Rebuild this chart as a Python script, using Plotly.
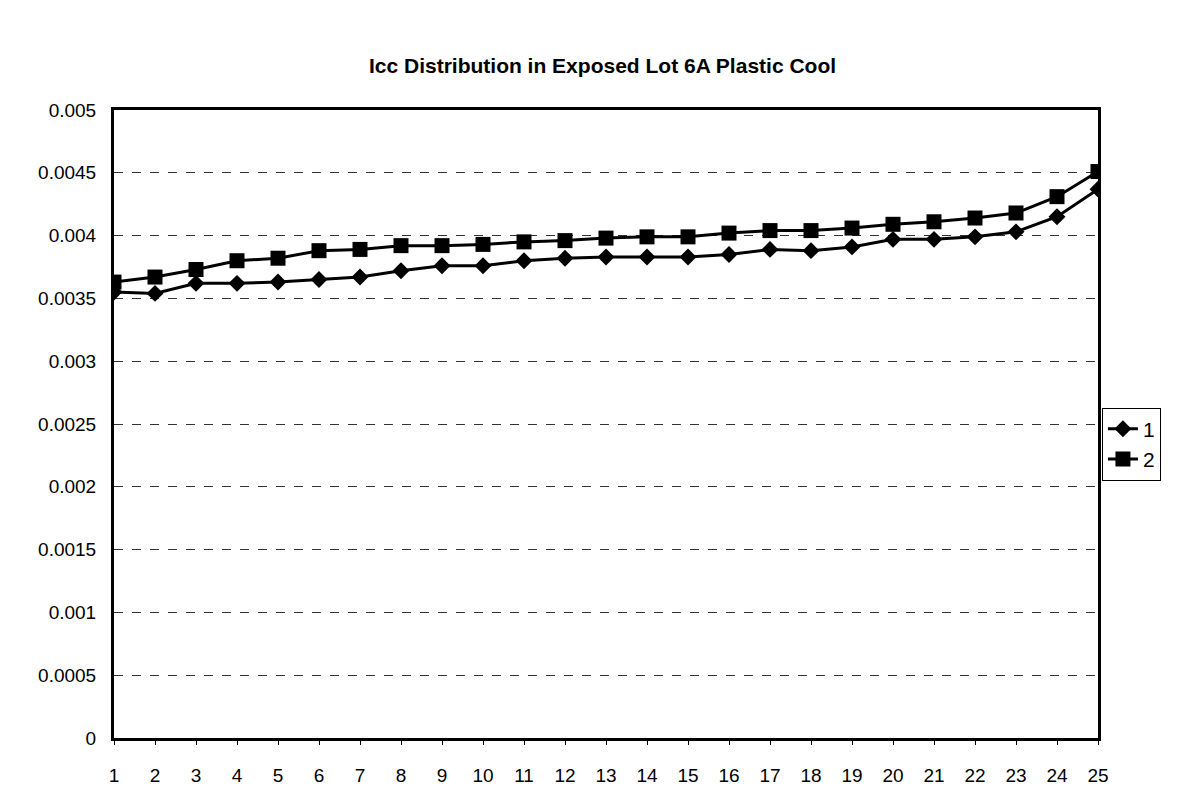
import plotly.graph_objects as go

x_vals = list(range(1, 26))
series1 = [0.00355, 0.00354, 0.00362, 0.00362, 0.00363, 0.00365, 0.00367, 0.00372, 0.00376, 0.00376,
           0.00380, 0.00382, 0.00383, 0.00383, 0.00383, 0.00385, 0.00389, 0.00388, 0.00391, 0.00397,
           0.00397, 0.00399, 0.00403, 0.00415, 0.00437]
series2 = [0.00363, 0.00367, 0.00373, 0.00380, 0.00382, 0.00388, 0.00389, 0.00392, 0.00392, 0.00393,
           0.00395, 0.00396, 0.00398, 0.00399, 0.00399, 0.00402, 0.00404, 0.00404, 0.00406, 0.00409,
           0.00411, 0.00414, 0.00418, 0.00431, 0.00451]
y_ticks = [0, 0.0005, 0.001, 0.0015, 0.002, 0.0025, 0.003, 0.0035, 0.004, 0.0045, 0.005]
y_labels = ["0", "0.0005", "0.001", "0.0015", "0.002", "0.0025", "0.003", "0.0035", "0.004", "0.0045", "0.005"]

FONT = "Liberation Sans, Arial, sans-serif"

fig = go.Figure()
fig.add_trace(go.Scatter(x=x_vals, y=series1, name="1", mode="lines+markers",
                         line=dict(color="black", width=3),
                         marker=dict(symbol="diamond", size=13, color="black")))
fig.add_trace(go.Scatter(x=x_vals, y=series2, name="2", mode="lines+markers",
                         line=dict(color="black", width=3),
                         marker=dict(symbol="square", size=15, color="black")))

fig.update_layout(
    width=1189, height=803,
    paper_bgcolor="white", plot_bgcolor="white",
    margin=dict(l=106, r=99, t=102, b=73),
    font=dict(family=FONT, size=19, color="black"),
    title=dict(text="<b>Icc Distribution in Exposed Lot 6A Plastic Cool</b>",
               x=0.5, xanchor="center", y=0.928, yanchor="middle",
               font=dict(family=FONT, size=21, color="black")),
    xaxis=dict(range=[1, 25], tickmode="array", tickvals=x_vals,
               ticktext=[str(v) for v in x_vals],
               showgrid=False, zeroline=False,
               showline=True, linecolor="black", linewidth=3, mirror=True,
               ticks="outside", ticklen=4, tickcolor="black", ticklabelstandoff=14,
               tickfont=dict(size=19)),
    yaxis=dict(range=[0, 0.005], tickmode="array", tickvals=y_ticks, ticktext=y_labels,
               showgrid=True, gridcolor="#333333", griddash="dash", gridwidth=1,
               zeroline=False,
               showline=True, linecolor="black", linewidth=3, mirror=True,
               ticks="", ticklabelstandoff=11, tickfont=dict(size=19)),
    legend=dict(x=1.004, xanchor="left", y=0.468, yanchor="middle",
                bordercolor="black", borderwidth=1, bgcolor="white",
                font=dict(size=21), itemwidth=30, tracegroupgap=4),
    showlegend=True,
)

fig.write_html("out.html")
